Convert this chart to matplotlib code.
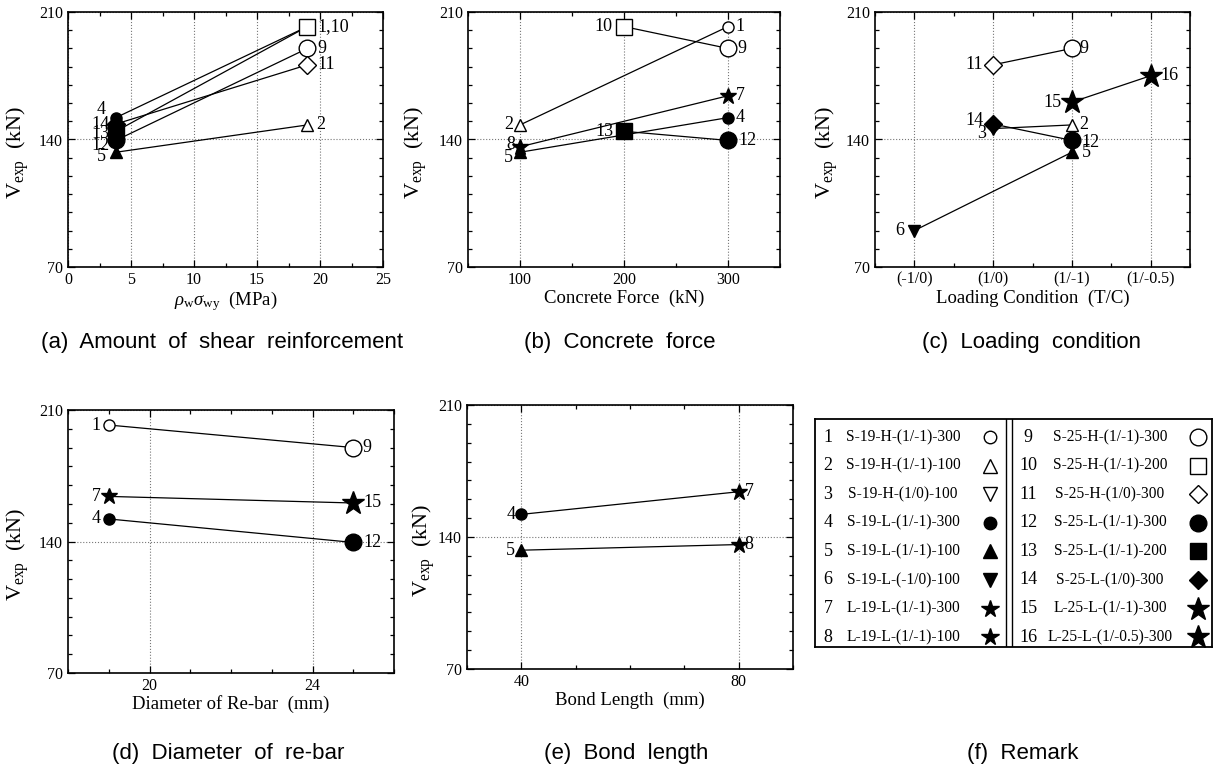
import matplotlib
matplotlib.use("Agg")
import matplotlib.pyplot as plt
from matplotlib.ticker import MultipleLocator, FixedLocator

plt.rcParams['font.family'] = ['Liberation Serif', 'DejaVu Serif']
plt.rcParams['mathtext.fontset'] = 'custom'
plt.rcParams['mathtext.rm'] = 'Liberation Serif'
plt.rcParams['mathtext.it'] = 'Liberation Serif:italic'

# ---------------- data ----------------
specimen_ids = list(range(1, 17))
specimen_names = [
    "S-19-H-(1/-1)-300", "S-19-H-(1/-1)-100", "S-19-H-(1/0)-100", "S-19-L-(1/-1)-300",
    "S-19-L-(1/-1)-100", "S-19-L-(-1/0)-100", "L-19-L-(1/-1)-300", "L-19-L-(1/-1)-100",
    "S-25-H-(1/-1)-300", "S-25-H-(1/-1)-200", "S-25-H-(1/0)-300", "S-25-L-(1/-1)-300",
    "S-25-L-(1/-1)-200", "S-25-L-(1/0)-300", "L-25-L-(1/-1)-300", "L-25-L-(1/-0.5)-300",
]
v_exp = [202, 148, 146, 152, 133, 90, 164, 136, 190, 202, 181, 139.5, 144.5, 148.5, 160.5, 175]

# (a) amount of shear reinforcement
a_ids = [1, 2, 4, 5, 9, 10, 11, 12, 13, 14]
a_x = [19, 19, 3.8, 3.8, 19, 19, 19, 3.8, 3.8, 3.8]
a_pairs = [(4, 1), (5, 2), (12, 9), (13, 10), (14, 11)]
a_ticks = [0, 5, 10, 15, 20, 25]

# (b) concrete force
b_ids = [1, 2, 4, 5, 7, 8, 9, 10, 12, 13]
b_x = [300, 100, 300, 100, 300, 100, 300, 200, 300, 200]
b_pairs = [(2, 1), (10, 9), (8, 7), (5, 4), (13, 12)]
b_ticks = [100, 200, 300]

# (c) loading condition
c_categories = ["(-1/0)", "(1/0)", "(1/-1)", "(1/-0.5)"]
c_ids = [2, 3, 5, 6, 9, 11, 12, 14, 15, 16]
c_cat = ["(1/-1)", "(1/0)", "(1/-1)", "(-1/0)", "(1/-1)", "(1/0)", "(1/-1)", "(1/0)", "(1/-1)", "(1/-0.5)"]
c_pairs = [(11, 9), (3, 2), (14, 12), (6, 5), (15, 16)]

# (d) diameter of re-bar
d_ids = [1, 4, 7, 9, 12, 15]
d_x = [19, 19, 19, 25, 25, 25]
d_pairs = [(1, 9), (7, 15), (4, 12)]
d_ticks = [20, 24]

# (e) bond length
e_ids = [4, 5, 7, 8]
e_x = [40, 40, 80, 80]
e_pairs = [(4, 7), (5, 8)]
e_ticks = [40, 80]

y_ticks = [70, 140, 210]

# ---------------- styles ----------------
marker_style = {
    1: ('o', 'white', 8), 2: ('^', 'white', 9), 3: ('v', 'white', 9), 4: ('o', 'black', 8),
    5: ('^', 'black', 9), 6: ('v', 'black', 9), 7: ('*', 'black', 12), 8: ('*', 'black', 12),
    9: ('o', 'white', 12), 10: ('s', 'white', 11.5), 11: ('D', 'white', 9.5), 12: ('o', 'black', 12),
    13: ('s', 'black', 11), 14: ('D', 'black', 9.5), 15: ('*', 'black', 17), 16: ('*', 'black', 17),
}

W, H = 1215, 764
fig = plt.figure(figsize=(W / 100, H / 100), dpi=100)


def px_axes(l, t, r, b):
    return fig.add_axes([l / W, 1 - b / H, (r - l) / W, (b - t) / H])


def style_axes(ax, xlim, xminor, xlabel, ylabel_x):
    ax.set_xlim(*xlim)
    ax.set_ylim(70, 210)
    ax.yaxis.set_major_locator(FixedLocator(y_ticks))
    ax.yaxis.set_minor_locator(MultipleLocator(10))
    ax.xaxis.set_minor_locator(MultipleLocator(xminor))
    ax.tick_params(which='both', direction='in', top=True, right=True, labelsize=11.5, width=0.9)
    ax.tick_params(which='major', length=5)
    ax.tick_params(which='minor', length=3)
    ax.grid(True, which='major', linestyle=':', color='#777777', linewidth=0.8)
    for s in ax.spines.values():
        s.set_linewidth(1.2)
    ax.set_xlabel(xlabel, fontsize=13.5, labelpad=1)
    ax.set_ylabel(r'V$_{\rm exp}$  (kN)', fontsize=16)
    ax.yaxis.set_label_coords(ylabel_x, 0.45)


def draw_panel(ax, ids, xs, pairs, labels):
    pos = {i: (x, v_exp[i - 1]) for i, x in zip(ids, xs)}
    for p, q in pairs:
        ax.plot([pos[p][0], pos[q][0]], [pos[p][1], pos[q][1]], color='black', lw=0.9, zorder=2)
    for i in ids:
        m, fc, ms = marker_style[i]
        ax.plot(pos[i][0], pos[i][1], marker=m, markersize=ms, markerfacecolor=fc,
                markeredgecolor='black', markeredgewidth=1.0, linestyle='none', zorder=3)
    for i, (dx, dy, ha, txt) in labels.items():
        ax.annotate(txt, pos[i], xytext=(dx * 0.72, dy * 0.72), textcoords='offset points',
                    ha=ha, va='center', fontsize=13, zorder=4)


# (a)
ax = px_axes(68, 12, 383, 267)
style_axes(ax, (0, 25), 2.5, r'$\rho_{\rm w}\sigma_{\rm wy}$  (MPa)', -0.117)
ax.set_xticks(a_ticks)
draw_panel(ax, a_ids, a_x, a_pairs, {
    10: (10, 0, 'left', '1,10'), 9: (10, 0, 'left', '9'), 11: (10, 0, 'left', '11'),
    2: (9, 0, 'left', '2'), 4: (-10, 8, 'right', '4'), 14: (-6, 0, 'right', '14'),
    13: (-6, -2, 'right', '13'), 12: (-6, -5, 'right', '12'), 5: (-10, -4, 'right', '5'),
})

# (b)
ax = px_axes(468, 12, 780, 267)
style_axes(ax, (50, 350), 50, 'Concrete Force  (kN)', -0.125)
ax.set_xticks(b_ticks)
draw_panel(ax, b_ids, b_x, b_pairs, {
    10: (-12, 0, 'right', '10'), 1: (7, 0, 'left', '1'), 9: (9, 0, 'left', '9'),
    7: (8, 0, 'left', '7'), 4: (8, 0, 'left', '4'), 12: (10, 0, 'left', '12'),
    2: (-7, 0, 'right', '2'), 8: (-5, 2, 'right', '8'), 5: (-7, -5, 'right', '5'),
    13: (-10, 0, 'right', '13'),
})

# (c)
ax = px_axes(875, 12, 1190, 267)
style_axes(ax, (-0.5, 3.5), 0.5, 'Loading Condition  (T/C)', -0.111)
ax.set_xticks(range(len(c_categories)))
ax.set_xticklabels(c_categories)
c_x = [c_categories.index(c) for c in c_cat]
draw_panel(ax, c_ids, c_x, c_pairs, {
    9: (8, 0, 'left', '9'), 11: (-10, 0, 'right', '11'), 16: (10, 0, 'left', '16'),
    15: (-10, 0, 'right', '15'), 14: (-10, 4, 'right', '14'), 3: (-7, -5, 'right', '3'),
    2: (7, 0, 'left', '2'), 12: (10, -2, 'left', '12'), 5: (10, 0, 'left', '5'),
    6: (-10, 0, 'right', '6'),
})

# (d)
ax = px_axes(68, 410, 394, 673)
style_axes(ax, (18, 26), 1, 'Diameter of Re-bar  (mm)', -0.113)
ax.set_xticks(d_ticks)
draw_panel(ax, d_ids, d_x, d_pairs, {
    1: (-8, 0, 'right', '1'), 9: (9, 0, 'left', '9'), 7: (-8, 0, 'right', '7'),
    15: (10, 0, 'left', '15'), 4: (-8, 0, 'right', '4'), 12: (10, 0, 'left', '12'),
})

# (e)
ax = px_axes(467, 405, 793, 669)
style_axes(ax, (30, 90), 10, 'Bond Length  (mm)', -0.092)
ax.set_xticks(e_ticks)
draw_panel(ax, e_ids, e_x, e_pairs, {
    4: (-6, 0, 'right', '4'), 7: (6, 0, 'left', '7'), 5: (-6, 0, 'right', '5'),
    8: (6, 0, 'left', '8'),
})

# (f) remark table
lx0, lx1, ly0, ly1 = 815, 1212, 419, 647
ax = px_axes(lx0, ly0, lx1, ly1)
ax.set_xlim(lx0, lx1)
ax.set_ylim(ly1, ly0)
ax.set_xticks([])
ax.set_yticks([])
for s in ax.spines.values():
    s.set_linewidth(1.3)
ax.plot([1006, 1006], [ly0, ly1], color='black', lw=1.0)
ax.plot([1012, 1012], [ly0, ly1], color='black', lw=1.0)
row_y0, row_dy = 437, 28.6
legend_ms_small = {'o': 9, '^': 10, 'v': 10, '*': 13}
for k, sid in enumerate(specimen_ids):
    col = k // 8
    r = k % 8
    y = row_y0 + r * row_dy
    nx, tx, mx = (828, 903, 990) if col == 0 else (1028, 1110, 1198)
    ax.text(nx, y, str(sid), ha='center', va='center', fontsize=13)
    ax.text(tx, y, specimen_names[k], ha='center', va='center', fontsize=11.2)
    m, fc, ms = marker_style[sid]
    if col == 0:
        ms = legend_ms_small.get(m, ms)
    ax.plot(mx, y, marker=m, markersize=ms, markerfacecolor=fc, markeredgecolor='black',
            markeredgewidth=1.0, linestyle='none')

# captions
cap = dict(fontsize=16, family=['Liberation Sans', 'DejaVu Sans'], ha='center', va='center')
fig.text(222 / W, 1 - 342 / H, '(a)  Amount  of  shear  reinforcement', **cap)
fig.text(620 / W, 1 - 342 / H, '(b)  Concrete  force', **cap)
fig.text(1032 / W, 1 - 342 / H, '(c)  Loading  condition', **cap)
fig.text(228 / W, 1 - 753 / H, '(d)  Diameter  of  re-bar', **cap)
fig.text(626 / W, 1 - 753 / H, '(e)  Bond  length', **cap)
fig.text(1023 / W, 1 - 753 / H, '(f)  Remark', **cap)

fig.savefig('out.png', dpi=100)
